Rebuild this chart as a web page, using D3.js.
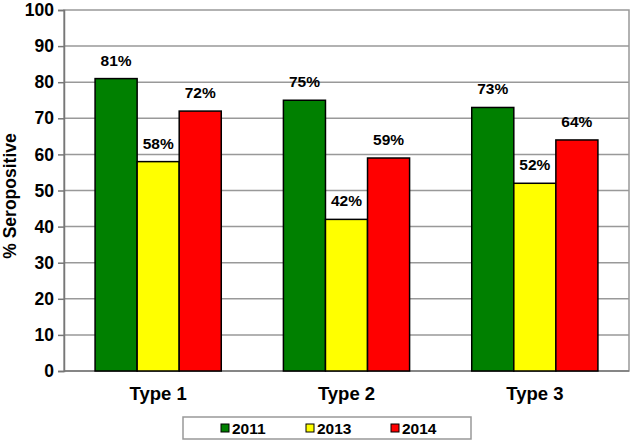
<!DOCTYPE html>
<html><head><meta charset="utf-8">
<script src="https://cdn.jsdelivr.net/npm/d3@7"></script>
<style>body{margin:0;background:#fff}svg{display:block;font-family:"Liberation Sans",Arial,sans-serif;font-weight:bold}</style>
</head><body><svg id="c" width="633" height="442"></svg>
<script>
const categories = ["Type 1", "Type 2", "Type 3"];
const seriesNames = ["2011", "2013", "2014"];
const values2011 = [81, 75, 73];
const values2013 = [58, 42, 52];
const values2014 = [72, 59, 64];
const seriesColors = ["#008000", "#FFFF00", "#FF0000"];
const yTicks = [0,10,20,30,40,50,60,70,80,90,100];

const series = [values2011, values2013, values2014];
const svg = d3.select("#c");
const L = 64, R = 629, T = 10, B = 371;
const x0 = d3.scaleBand().domain(categories).range([L, R]).paddingInner(0.33).paddingOuter(0.165);
const x1 = d3.scaleBand().domain(seriesNames).range([0, x0.bandwidth()]);
const y = d3.scaleLinear().domain([0, 100]).range([B, T]);

// plot frame
svg.append("rect").attr("x", L).attr("y", T).attr("width", R - L).attr("height", B - T)
  .attr("fill", "none").attr("stroke", "#999").attr("stroke-width", 1.5);
// grid
svg.append("g").selectAll("line").data(yTicks.filter(d => d > 0 && d < 100)).join("line")
  .attr("x1", L).attr("x2", R).attr("y1", d => y(d)).attr("y2", d => y(d))
  .attr("stroke", "#999").attr("stroke-width", 1.5);

// y axis
const ya = svg.append("g").attr("transform", `translate(${L},0)`)
  .call(d3.axisLeft(y).tickValues(yTicks).tickSize(6).tickPadding(4));
ya.select(".domain").attr("stroke", "#777").attr("stroke-width", 1.5);
ya.selectAll(".tick line").attr("stroke", "#777").attr("stroke-width", 1.5);
ya.selectAll(".tick text").attr("font-size", 17.5).attr("font-weight", "bold").attr("fill", "#000")
  .attr("font-family", '"Liberation Sans",Arial,sans-serif');
// bottom axis line
svg.append("line").attr("x1", L).attr("x2", R).attr("y1", B).attr("y2", B)
  .attr("stroke", "#777").attr("stroke-width", 1.5);

// bars
const g = svg.append("g").selectAll("g").data(categories).join("g")
  .attr("transform", c => `translate(${x0(c)},0)`);
g.selectAll("rect").data((c, i) => series.map((s, j) => ({ name: seriesNames[j], v: s[i], color: seriesColors[j] })))
  .join("rect")
  .attr("x", d => x1(d.name)).attr("width", x1.bandwidth())
  .attr("y", d => y(d.v)).attr("height", d => y(0) - y(d.v))
  .attr("fill", d => d.color).attr("stroke", "#000").attr("stroke-width", 1.5);
g.selectAll("text").data((c, i) => series.map((s, j) => ({ name: seriesNames[j], v: s[i] })))
  .join("text")
  .attr("x", d => x1(d.name) + x1.bandwidth() / 2).attr("y", d => y(d.v) - 13)
  .attr("text-anchor", "middle").attr("font-size", 15.5).text(d => d.v + "%");

// category labels
svg.append("g").selectAll("text").data(categories).join("text")
  .attr("x", c => x0(c) + x0.bandwidth() / 2).attr("y", 400)
  .attr("text-anchor", "middle").attr("font-size", 18.5).text(c => c);

// y label
svg.append("text").attr("transform", `translate(15.5,196) rotate(-90)`)
  .attr("text-anchor", "middle").attr("font-size", 17.5).text("% Seropositive");

// legend
svg.append("rect").attr("x", 183).attr("y", 417).attr("width", 288).attr("height", 22)
  .attr("fill", "#fff").attr("stroke", "#999").attr("stroke-width", 1.5);
const lx = [221, 306, 391];
const lg = svg.append("g").selectAll("g").data(seriesNames).join("g")
  .attr("transform", (d, i) => `translate(${lx[i]},428)`);
lg.append("rect").attr("x", 0).attr("y", -4).attr("width", 8).attr("height", 8)
  .attr("fill", (d, i) => seriesColors[i]).attr("stroke", "#000").attr("stroke-width", 1);
lg.append("text").attr("x", 11).attr("y", 6).attr("font-size", 15.5).text(d => d);
</script></body></html>
